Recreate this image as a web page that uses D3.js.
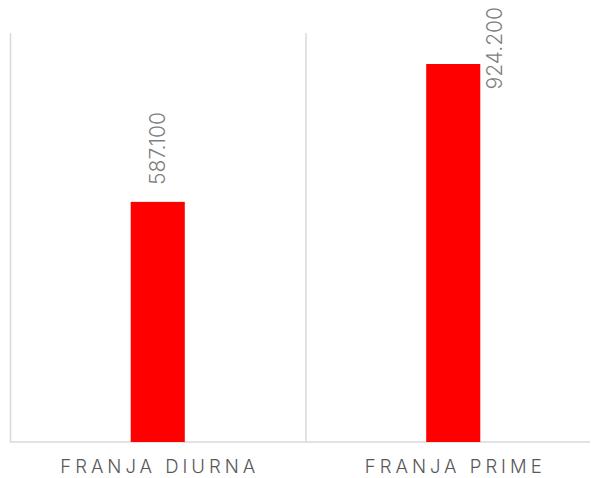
<!DOCTYPE html>
<html>
<head>
<meta charset="utf-8">
<script src="https://cdn.jsdelivr.net/npm/d3@7"></script>
<style>
  body { margin: 0; background: #fff; }
  svg { display: block; font-family: Inter, "Open Sans", sans-serif; }
</style>
</head>
<body>
<svg width="591" height="478"></svg>
<script>
let width = 591, height = 478;

let categories = ["FRANJA DIURNA", "FRANJA PRIME"];
let values = [587.1, 924.2];
let valueLabels = ["587.100", "924.200"];

let svg = d3.select("svg");

let x = d3.scaleBand()
    .domain(categories)
    .range([10, 601])
    .padding(0);

let y = d3.scaleLinear()
    .domain([0, 1000])
    .range([442, 33]);

let barW = x.bandwidth() * 0.183;

// separators
svg.append("g").selectAll("line")
    .data(categories)
    .enter().append("line")
    .attr("x1", d => x(d) + 0.5)
    .attr("x2", d => x(d) + 0.5)
    .attr("y1", y(1000))
    .attr("y2", y(0))
    .attr("stroke", "#d9d9d9")
    .attr("stroke-width", 1.5);

svg.append("line")
    .attr("x1", 10)
    .attr("x2", 590)
    .attr("y1", y(0))
    .attr("y2", y(0))
    .attr("stroke", "#d9d9d9")
    .attr("stroke-width", 1.5);

// bars
svg.append("g").selectAll("rect")
    .data(values)
    .enter().append("rect")
    .attr("x", (d, i) => x(categories[i]) + x.bandwidth() / 2 - barW / 2)
    .attr("y", d => y(d))
    .attr("width", barW)
    .attr("height", d => y(0) - y(d))
    .attr("fill", "#ff0000");

// value labels (rotated)
let labelLen = 76;
svg.append("g").selectAll("text")
    .data(values)
    .enter().append("text")
    .attr("transform", (d, i) => {
        let cx = x(categories[i]) + x.bandwidth() / 2;
        let top = y(d) - 17;
        // if label would run off the top, put it beside the bar
        if (top - labelLen < 0) {
            return "translate(" + (cx + barW / 2 + 14) + "," + 7 + ") rotate(-90)";
        }
        return "translate(" + cx + "," + top + ") rotate(-90)";
    })
    .attr("text-anchor", d => (y(d) - 17 - labelLen < 0) ? "end" : "start")
    .attr("dy", "0.35em")
    .attr("fill", "#7f7f7f")
    .attr("font-size", "21px")
    .attr("font-weight", 300)
    .text((d, i) => valueLabels[i]);

// category labels
svg.append("g").selectAll("text")
    .data(categories)
    .enter().append("text")
    .attr("x", d => x(d) + x.bandwidth() / 2 + 2)
    .attr("y", 473)
    .attr("text-anchor", "middle")
    .attr("fill", "#595959")
    .attr("font-size", "18.5px")
    .attr("font-weight", 300)
    .attr("letter-spacing", "4px")
    .text(d => d);
</script>
</body>
</html>
